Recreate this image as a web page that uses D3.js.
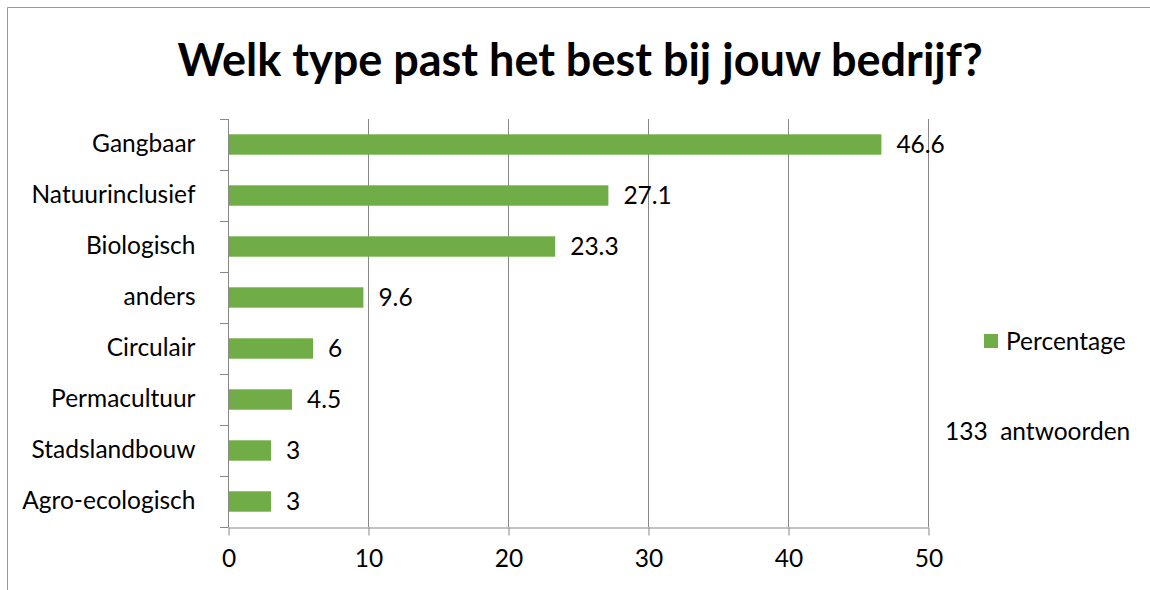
<!DOCTYPE html>
<html lang="nl">
<head>
<meta charset="UTF-8">
<title>Welk type past het best bij jouw bedrijf?</title>
<script src="https://d3js.org/d3.v7.min.js"></script>
<style>
  body { margin: 0; background: #fff; }
  text { font-family: Lato, "Open Sans", sans-serif; fill: #000; }
</style>
</head>
<body>
<svg id="chart"></svg>
<script>
  // data
  const categories = ["Gangbaar", "Natuurinclusief", "Biologisch", "anders",
                      "Circulair", "Permacultuur", "Stadslandbouw", "Agro-ecologisch"];
  const percentages = [46.6, 27.1, 23.3, 9.6, 6, 4.5, 3, 3];
  const xTicks = [0, 10, 20, 30, 40, 50];
  const seriesName = "Percentage";
  const note = "133  antwoorden";

  const width = 1150, height = 590;
  const plot = {left: 228, right: 928, top: 119, bottom: 527};
  const green = "#70ad47", grid = "#888888";
  const fs = 24.5;

  const svg = d3.select("#chart").attr("width", width).attr("height", height);

  // outer border (top and left edges visible)
  svg.append("path")
      .attr("d", `M7.5,${height} V7.5 H${width}`)
      .attr("fill", "none").attr("stroke", "#999");

  svg.append("text")
      .attr("x", 580).attr("y", 76)
      .attr("text-anchor", "middle")
      .attr("font-size", 45).attr("font-weight", "bold")
      .text("Welk type past het best bij jouw bedrijf?");

  const x = d3.scaleLinear().domain([0, 50]).range([plot.left, plot.right]);
  const y = d3.scaleBand().domain(categories).range([plot.top, plot.bottom]).paddingInner(0.6).paddingOuter(0.3);
  const yBand = d3.scaleBand().domain(categories).range([plot.top, plot.bottom]);

  // vertical gridlines
  svg.append("g").selectAll("line").data(xTicks.slice(1)).join("line")
      .attr("x1", d => x(d) + 0.5).attr("x2", d => x(d) + 0.5)
      .attr("y1", plot.top).attr("y2", plot.bottom)
      .attr("stroke", grid);

  // x axis
  const xAxis = svg.append("g")
      .attr("transform", `translate(0.5,${plot.bottom + 0.5})`)
      .call(d3.axisBottom(x).tickValues(xTicks).tickSize(8).tickSizeOuter(0).tickPadding(14));
  xAxis.select(".domain").attr("stroke", grid);
  xAxis.selectAll(".tick line").attr("stroke", grid);
  xAxis.selectAll("text").attr("font-size", fs).attr("fill", "#000");

  // y axis with ticks between categories
  const yAxis = svg.append("g")
      .attr("transform", `translate(${plot.left + 0.5},0)`)
      .call(d3.axisLeft(y).tickSize(0).tickPadding(33));
  yAxis.select(".domain").attr("stroke", grid).attr("d", `M0,${plot.top}V${plot.bottom}`);
  yAxis.selectAll("text").attr("font-size", fs).attr("fill", "#000");
  svg.append("g").selectAll("line")
      .data(categories.map(c => yBand(c)).concat([plot.bottom]))
      .join("line")
      .attr("x1", plot.left - 8).attr("x2", plot.left + 0.5)
      .attr("y1", d => Math.round(d) + 0.5).attr("y2", d => Math.round(d) + 0.5)
      .attr("stroke", grid);

  // bars
  svg.append("g").selectAll("rect").data(percentages).join("rect")
      .attr("x", x(0) + 1)
      .attr("y", (d, i) => y(categories[i]))
      .attr("width", d => x(d) - x(0))
      .attr("height", y.bandwidth())
      .attr("fill", green);

  // value labels
  svg.append("g").selectAll("text").data(percentages).join("text")
      .attr("x", d => x(d) + 16)
      .attr("y", (d, i) => y(categories[i]) + y.bandwidth() / 2)
      .attr("dy", "0.35em")
      .attr("font-size", fs)
      .text(d => d);

  // legend
  svg.append("rect").attr("x", 984).attr("y", 334).attr("width", 14).attr("height", 14).attr("fill", green);
  svg.append("text").attr("x", 1006).attr("y", 341).attr("dy", "0.35em")
      .attr("font-size", fs).text(seriesName);

  svg.append("text").attr("x", 945).attr("y", 431).attr("dy", "0.35em")
      .attr("font-size", fs).style("white-space", "pre").text(note);
</script>
</body>
</html>
